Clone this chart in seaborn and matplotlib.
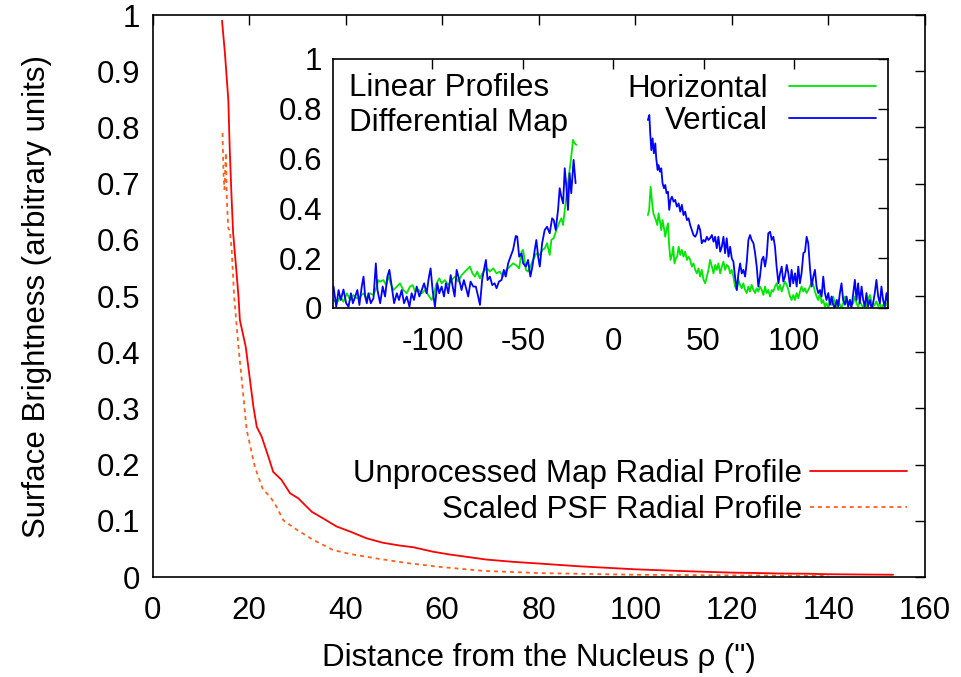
import matplotlib
matplotlib.use("Agg")
import matplotlib.pyplot as plt
import seaborn as sns

# ---------------- main plot data ----------------
red_x = [14.4, 15.0, 15.7, 16.0, 16.4, 16.7, 17.3, 17.8, 18.1, 19.3, 20.2, 20.9, 21.6, 22.6,
         24.0, 25.0, 26.7, 28.5, 30.2, 33.0, 35.4, 38.1, 40.9, 44.3, 47.7, 51.2, 54.0, 58.1,
         61.6, 65.0, 69.2, 74.7, 80.0, 88.5, 100.0, 109.2, 120.0, 125.8, 130.0, 136.0, 139.5,
         146.0, 153.4]
red_y = [0.99, 0.932, 0.849, 0.76, 0.67, 0.612, 0.552, 0.50, 0.457, 0.41, 0.35, 0.303, 0.267,
         0.25, 0.214, 0.187, 0.173, 0.149, 0.14, 0.116, 0.104, 0.09, 0.081, 0.069, 0.061, 0.056,
         0.053, 0.045, 0.04, 0.036, 0.031, 0.027, 0.024, 0.019, 0.0137, 0.0107, 0.0078, 0.007,
         0.0062, 0.0058, 0.005, 0.0045, 0.004]

psf_x = [14.5, 14.7, 14.9, 15.2, 15.4, 15.7, 16.0, 16.4, 16.7, 16.9, 17.8, 18.5, 19.5, 21.2,
         22.9, 24.3, 25.7, 27.1, 29.9, 33.3, 37.4, 40.9, 46.4, 52.6, 59.5, 68.4, 80.0, 100.0,
         120.0, 140.0]
psf_y = [0.79, 0.72, 0.69, 0.755, 0.67, 0.62, 0.617, 0.582, 0.534, 0.50, 0.41, 0.35, 0.262,
         0.196, 0.155, 0.144, 0.125, 0.101, 0.084, 0.066, 0.048, 0.041, 0.033, 0.025, 0.018,
         0.011, 0.007, 0.004, 0.003, 0.002]

main_xticks = [0, 20, 40, 60, 80, 100, 120, 140, 160]
main_yticks = [0, 0.1, 0.2, 0.3, 0.4, 0.5, 0.6, 0.7, 0.8, 0.9, 1.0]
main_ytick_labels = ["0", "0.1", "0.2", "0.3", "0.4", "0.5", "0.6", "0.7", "0.8", "0.9", "1"]

# ---------------- inset data ----------------
vert_left_x = [-154.7, -153.2, -151.9, -150.7, -149.2, -147.7, -146.4, -145.1, -144.0, -142.7,
               -141.5, -140.4, -139.1, -138.1, -137.2, -136.3, -135.4, -134.1, -132.6, -131.3,
               -130.4, -128.9, -127.5, -126.2, -124.9, -123.8, -122.5, -121.2, -119.7, -118.5,
               -117.0, -115.7, -114.2, -112.7, -111.5, -110.2, -108.7, -107.2, -105.9, -104.6,
               -103.2, -101.9, -101.0, -99.9, -98.6, -97.3, -96.2, -94.9, -93.6, -92.5,
               -91.2, -89.9, -88.8, -87.7, -86.6, -85.1, -83.9, -82.6, -81.1, -80.2,
               -78.9, -77.4, -76.0, -74.7, -73.7, -72.5, -71.5, -70.4, -69.5, -68.2,
               -66.9, -65.6, -64.5, -63.2, -61.8, -60.5, -59.4, -58.1, -56.8, -55.4,
               -53.9, -53.1, -52.0, -50.7, -49.8, -48.3, -47.1, -45.8, -44.7, -43.4,
               -42.5, -41.5, -40.6, -39.3, -37.9, -36.6, -35.1, -33.8, -32.9, -31.8,
               -30.5, -29.6, -28.7, -27.7, -26.8, -25.9, -25.0, -24.1, -23.2, -21.9,
               -20.8]
vert_left_y = [0.086, 0.005, 0.072, 0.032, 0.074, 0.019, 0.005, 0.059, 0.019, 0.046,
               0.072, 0.012, 0.086, 0.126, 0.046, 0.019, 0.059, 0.019, 0.039, 0.179,
               0.072, 0.019, 0.086, 0.046, 0.126, 0.153, 0.086, 0.019, 0.059, 0.032,
               0.072, 0.019, 0.046, 0.005, 0.059, 0.032, 0.086, 0.046, 0.072, 0.099,
               0.059, 0.126, 0.159, 0.072, 0.005, 0.099, 0.059, 0.086, 0.046, 0.099,
               0.059, 0.132, 0.086, 0.046, 0.153, 0.112, 0.072, 0.112, 0.072, 0.046,
               0.106, 0.086, 0.086, 0.046, 0.012, 0.112, 0.153, 0.193, 0.112, 0.126,
               0.092, 0.099, 0.079, 0.106, 0.112, 0.153, 0.126, 0.179, 0.206, 0.233,
               0.289, 0.287, 0.206, 0.219, 0.179, 0.166, 0.193, 0.126, 0.166, 0.233,
               0.273, 0.206, 0.166, 0.260, 0.313, 0.326, 0.300, 0.360, 0.353, 0.313,
               0.394, 0.481, 0.447, 0.420, 0.561, 0.487, 0.394, 0.541, 0.461, 0.595,
               0.501]

horiz_left_x = [-154.7, -152.9, -151.0, -149.2, -147.3, -145.5, -143.7, -141.8, -140.0, -138.1,
                -136.3, -134.5, -132.6, -130.8, -129.9, -128.9, -127.1, -125.6, -124.3, -123.1,
                -121.6, -119.7, -117.9, -116.1, -114.2, -112.4, -110.9, -109.6, -107.8, -105.9,
                -104.1, -102.3, -100.4, -99.5, -97.7, -96.2, -94.9, -93.1, -91.2, -89.4,
                -87.5, -85.7, -83.9, -82.0, -80.2, -79.3, -77.8, -76.5, -75.2, -73.7,
                -72.3, -71.0, -69.7, -68.2, -66.4, -64.5, -62.7, -60.9, -59.0, -57.2,
                -55.4, -53.9, -52.0, -50.7, -49.8, -48.3, -47.1, -45.8, -44.3, -42.5,
                -40.6, -39.2, -37.9, -36.6, -35.1, -34.2, -32.9, -31.4, -30.0, -28.7,
                -27.7, -26.8, -25.9, -25.0, -24.1, -23.2, -22.2, -21.3, -20.4]
horiz_left_y = [0.032, 0.019, 0.046, 0.025, 0.059, 0.032, 0.052, 0.039, 0.046, 0.059,
                0.039, 0.059, 0.052, 0.086, 0.112, 0.106, 0.112, 0.092, 0.126, 0.099,
                0.072, 0.086, 0.099, 0.072, 0.059, 0.086, 0.092, 0.066, 0.074, 0.059,
                0.072, 0.052, 0.032, 0.046, 0.099, 0.119, 0.099, 0.112, 0.092, 0.112,
                0.126, 0.106, 0.132, 0.146, 0.159, 0.166, 0.139, 0.126, 0.146, 0.119,
                0.139, 0.153, 0.159, 0.146, 0.159, 0.139, 0.146, 0.126, 0.153, 0.166,
                0.179, 0.173, 0.159, 0.226, 0.233, 0.153, 0.146, 0.166, 0.193, 0.219,
                0.213, 0.233, 0.239, 0.260, 0.213, 0.273, 0.280, 0.313, 0.340, 0.360,
                0.333, 0.394, 0.447, 0.501, 0.554, 0.608, 0.675, 0.661, 0.655]

right_tail_x = [37.1, 38.0, 38.9, 39.8, 40.8, 41.7, 42.6, 43.5, 44.4, 45.4,
                46.3, 47.2, 48.1, 49.0, 50.0, 50.9, 51.8, 52.7, 53.6, 54.6,
                55.5, 56.4, 57.3, 58.2, 59.2, 60.1, 61.0, 61.9, 62.8, 63.8,
                64.7, 65.6, 66.5, 67.4, 68.4, 69.3, 70.2, 71.1, 72.0, 73.0,
                73.9, 74.8, 75.7, 76.6, 77.6, 78.5, 79.4, 80.3, 81.2, 82.2,
                83.1, 84.0, 84.9, 85.8, 86.8, 87.7, 88.6, 89.5, 90.4, 91.4,
                92.3, 93.2, 94.1, 95.0, 96.0, 96.9, 97.8, 98.7, 99.6, 100.6,
                101.5, 102.4, 103.3, 104.2, 105.2, 106.1, 107.0, 107.9, 108.8, 109.8,
                110.7, 111.6, 112.5, 113.4, 114.4, 115.3, 116.2, 117.1, 118.0, 119.0,
                119.9, 120.8, 121.7, 122.6, 123.6, 124.5, 125.4, 126.3, 127.2, 128.2,
                129.1, 130.0, 130.9, 131.8, 132.8, 133.7, 134.6, 135.5, 136.4, 137.4,
                138.3, 139.2, 140.1, 141.0, 142.0, 142.9, 143.8, 144.7, 145.6, 146.6,
                147.5, 148.4, 149.3, 150.2, 151.2, 152.1]

vert_right_x = [19.2, 20.0, 20.5, 21.1, 21.8, 22.5, 23.3, 23.8, 24.6, 25.1,
                25.9, 26.6, 27.3, 28.1, 28.8, 29.5, 30.3, 31.0, 31.7, 32.5,
                33.4, 34.3, 35.2, 36.2] + right_tail_x + [153.0]
vert_right_y = [0.755, 0.775, 0.701, 0.634, 0.681, 0.621, 0.661, 0.601, 0.554, 0.574,
                0.547, 0.561, 0.501, 0.481, 0.494, 0.461, 0.467, 0.394, 0.434, 0.447,
                0.427, 0.434, 0.407, 0.420, 0.387, 0.414, 0.373, 0.387, 0.353, 0.360,
                0.333, 0.313, 0.293, 0.286, 0.300, 0.333, 0.313, 0.260, 0.273, 0.266,
                0.286, 0.273, 0.280, 0.293, 0.266, 0.286, 0.240, 0.286, 0.226, 0.246,
                0.286, 0.220, 0.280, 0.206, 0.246, 0.199, 0.186, 0.126, 0.072, 0.139,
                0.179, 0.139, 0.153, 0.126, 0.186, 0.273, 0.293, 0.273, 0.260, 0.220,
                0.166, 0.086, 0.126, 0.193, 0.206, 0.166, 0.206, 0.300, 0.306, 0.273,
                0.286, 0.246, 0.166, 0.099, 0.139, 0.166, 0.106, 0.126, 0.173, 0.139,
                0.086, 0.153, 0.099, 0.139, 0.086, 0.166, 0.099, 0.139, 0.220, 0.226,
                0.286, 0.260, 0.166, 0.086, 0.126, 0.153, 0.086, 0.060, 0.072, 0.046,
                0.126, 0.060, 0.032, 0.060, 0.013, 0.046, 0.013, 0.000, 0.032, 0.006,
                0.060, 0.099, 0.032, 0.013, 0.046, 0.006, 0.032, 0.000, 0.060, 0.113,
                0.032, 0.099, 0.019, 0.086, 0.032, 0.006, 0.060, 0.006, 0.032, 0.000,
                0.019, 0.060, 0.113, 0.046, 0.019, 0.086, 0.032, 0.006, 0.060, 0.013,
                0.099]

horiz_right_x = [19.2, 19.9, 20.7, 21.4, 22.2, 22.9, 23.6, 24.4, 25.1, 25.9,
                 26.6, 27.3, 28.1, 28.8, 29.5, 30.3, 31.0, 31.7, 32.5, 33.2,
                 33.9, 34.7, 35.4, 36.2] + right_tail_x
horiz_right_y = [0.373, 0.394, 0.487, 0.434, 0.380, 0.367, 0.353, 0.333, 0.380, 0.347,
                 0.313, 0.353, 0.320, 0.286, 0.313, 0.340, 0.246, 0.193, 0.213, 0.246,
                 0.179, 0.199, 0.206, 0.246,
                 0.213, 0.233, 0.206, 0.226, 0.193, 0.206, 0.193, 0.166, 0.179, 0.153,
                 0.139, 0.159, 0.126, 0.153, 0.113, 0.099, 0.126, 0.153, 0.193, 0.166,
                 0.139, 0.173, 0.153, 0.179, 0.139, 0.166, 0.186, 0.153, 0.173, 0.166,
                 0.139, 0.153, 0.126, 0.086, 0.072, 0.113, 0.093, 0.079, 0.099, 0.072,
                 0.060, 0.086, 0.066, 0.093, 0.072, 0.060, 0.079, 0.066, 0.086, 0.072,
                 0.052, 0.086, 0.060, 0.072, 0.046, 0.072, 0.066, 0.086, 0.099, 0.072,
                 0.093, 0.066, 0.086, 0.106, 0.093, 0.072, 0.046, 0.032, 0.052, 0.032,
                 0.060, 0.039, 0.066, 0.086, 0.066, 0.079, 0.060, 0.072, 0.086, 0.106,
                 0.093, 0.066, 0.046, 0.032, 0.060, 0.019, 0.032, 0.006, 0.019, 0.000,
                 0.032, 0.013, 0.046, 0.019, 0.006, 0.032, 0.013, 0.000, 0.019, 0.046,
                 0.026, 0.006, 0.032, 0.013, 0.019, 0.046, 0.019, 0.006, 0.026, 0.013,
                 0.000, 0.019, 0.006, 0.032, 0.052, 0.026, 0.006, 0.013, 0.026, 0.006,
                 0.019, 0.000, 0.013, 0.006, 0.019, 0.006]

inset_xticks = [-100, -50, 0, 50, 100]
inset_yticks = [0, 0.2, 0.4, 0.6, 0.8, 1.0]
inset_ytick_labels = ["0", "0.2", "0.4", "0.6", "0.8", "1"]

# ---------------- style ----------------
sns.set_style("white")
plt.rcParams["font.family"] = ["Liberation Sans", "DejaVu Sans"]
plt.rcParams["text.color"] = "black"
plt.rcParams["axes.labelcolor"] = "black"
plt.rcParams["xtick.color"] = "black"
plt.rcParams["ytick.color"] = "black"
FS = 22.5
RED = "#ff0000"
PSF = "#ff6020"
GREEN = "#00e600"
BLUE = "#0000ff"
LW = 1.3

fig = plt.figure(figsize=(9.61, 6.77), dpi=100)
ax = fig.add_axes([0.1587, 0.1477, 0.8038, 0.8301])

sns.lineplot(x=red_x, y=red_y, ax=ax, color=RED, lw=LW, sort=False, estimator=None,
             label="Unprocessed Map Radial Profile")
sns.lineplot(x=psf_x, y=psf_y, ax=ax, color=PSF, lw=LW, sort=False, estimator=None,
             linestyle=(0, (2.2, 2.2)), label="Scaled PSF Radial Profile")

ax.set_xlim(0, 160)
ax.set_ylim(0, 1)
ax.set_xticks(main_xticks)
ax.set_xticklabels([str(t) for t in main_xticks])
ax.set_yticks(main_yticks)
ax.set_yticklabels(main_ytick_labels)
ax.set_xlabel('Distance from the Nucleus ρ (")', fontsize=FS, labelpad=12, color="black")
ax.set_ylabel("Surface Brightness (arbitrary units)", fontsize=FS, labelpad=32, color="black")


def style_axes(a, xpad, ypad):
    for s in a.spines.values():
        s.set_visible(True)
        s.set_color("black")
        s.set_linewidth(1.2)
    a.tick_params(direction="in", length=7, width=1.0, top=True, right=True,
                  labelsize=FS, colors="black")
    a.tick_params(axis="x", pad=xpad)
    a.tick_params(axis="y", pad=ypad)


style_axes(ax, 14, 9)

ax.legend(loc="upper right", bbox_to_anchor=(907 / 961, 1 - 459 / 677),
          bbox_transform=fig.transFigure, frameon=False, fontsize=FS,
          markerfirst=False, handlelength=3.1, handletextpad=0.25,
          labelspacing=0.2, borderpad=0, borderaxespad=0)

# ---------------- inset ----------------
axi = fig.add_axes([0.3465, 0.5451, 0.5775, 0.3678])
axi.set_facecolor("white")
sns.lineplot(x=horiz_left_x, y=horiz_left_y, ax=axi, color=GREEN, lw=LW, sort=False,
             estimator=None, label="Horizontal")
sns.lineplot(x=vert_left_x, y=vert_left_y, ax=axi, color=BLUE, lw=LW, sort=False,
             estimator=None, label="Vertical")
sns.lineplot(x=horiz_right_x, y=horiz_right_y, ax=axi, color=GREEN, lw=LW, sort=False,
             estimator=None)
sns.lineplot(x=vert_right_x, y=vert_right_y, ax=axi, color=BLUE, lw=LW, sort=False,
             estimator=None)
axi.set_xlim(-155, 152)
axi.set_ylim(0, 1)
axi.set_xticks(inset_xticks)
axi.set_xticklabels([str(t) for t in inset_xticks])
axi.set_yticks(inset_yticks)
axi.set_yticklabels(inset_ytick_labels)
axi.set_xlabel("")
axi.set_ylabel("")
style_axes(axi, 14, 8)

handles, labels = axi.get_legend_handles_labels()
axi.legend(handles[:2], labels[:2], loc="upper right", bbox_to_anchor=(876 / 961, 1 - 74 / 677),
           bbox_transform=fig.transFigure, frameon=False, fontsize=FS,
           markerfirst=False, handlelength=2.8, handletextpad=0.65,
           labelspacing=0.05, borderpad=0, borderaxespad=0)

axi.text(0.029, 0.884, "Linear Profiles", transform=axi.transAxes, fontsize=FS,
         va="center", ha="left")
axi.text(0.029, 0.743, "Differential Map", transform=axi.transAxes, fontsize=FS,
         va="center", ha="left")

fig.savefig("out.png", dpi=100)
